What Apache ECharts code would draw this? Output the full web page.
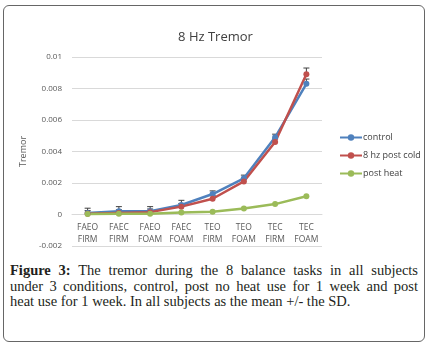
<!DOCTYPE html>
<html>
<head>
<meta charset="utf-8">
<script src="https://cdn.jsdelivr.net/npm/echarts@6/dist/echarts.min.js"></script>
<style>
  html, body { margin: 0; padding: 0; background: #fff; }
  #frame {
    position: absolute; left: 3px; top: 5px; width: 420px; height: 335px;
    border: 1.5px solid #666; border-radius: 6px;
  }
  #chart { position: absolute; left: 0; top: 0; width: 431px; height: 262px; }
  #caption {
    position: absolute; left: 10px; top: 263px; width: 408px;
    font-family: "Liberation Serif", "DejaVu Serif", serif;
    font-size: 14.5px; line-height: 15.5px; color: #231f20;
  }
  #caption div { text-align: justify; text-align-last: justify; white-space: nowrap; }
  #caption div.last { text-align-last: left; }
</style>
</head>
<body>
<div id="frame"></div>
<div id="chart"></div>
<div id="caption">
  <div><b>Figure 3:</b> The tremor during the 8 balance tasks in all subjects</div>
  <div>under 3 conditions, control, post no heat use for 1 week and post</div>
  <div class="last">heat use for 1 week. In all subjects as the mean +/- the SD.</div>
</div>
<script>
// 任务类别
var tasks = ['FAEO\nFIRM', 'FAEC\nFIRM', 'FAEO\nFOAM', 'FAEC\nFOAM', 'TEO\nFIRM', 'TEO\nFOAM', 'TEC\nFIRM', 'TEC\nFOAM'];
// 均值
var control  = [0.0001, 0.0002, 0.0002, 0.0006, 0.0013, 0.0023, 0.0049, 0.0083];
var postCold = [0.00005, 0.0001, 0.00015, 0.0005, 0.001, 0.0021, 0.0046, 0.0089];
var postHeat = [0.00003, 0.00005, 0.00005, 0.00013, 0.00017, 0.00038, 0.00066, 0.00116];
// 标准差 (只画上半部分)
var controlSd  = [0.0003, 0.0003, 0.0003, 0.0003, 0.0002, 0.0002, 0.0002, 0.0003];
var postColdSd = [0.0002, 0.0002, 0.0002, 0.0002, 0.0002, 0.0002, 0.0002, 0.0004];

var colors = ['#4F81BD', '#C0504D', '#9BBB59'];

function errData(mean, sd) {
    return mean.map(function (v, i) { return [i, v, v + sd[i]]; });
}

function renderErr(params, api) {
    var p0 = api.coord([api.value(0), api.value(1)]);
    var p1 = api.coord([api.value(0), api.value(2)]);
    var style = { stroke: '#404040', lineWidth: 1 };
    return {
        type: 'group',
        children: [
            { type: 'line', shape: { x1: p0[0], y1: p0[1], x2: p1[0], y2: p1[1] }, style: style },
            { type: 'line', shape: { x1: p1[0] - 3, y1: p1[1], x2: p1[0] + 3, y2: p1[1] }, style: style }
        ]
    };
}

function lineSeries(name, data, color) {
    return {
        name: name,
        type: 'line',
        data: data,
        symbol: 'circle',
        symbolSize: 6,
        z: 3,
        itemStyle: { color: color },
        lineStyle: { color: color, width: 2.5 }
    };
}

var option = {
    animation: false,
    color: colors,
    title: {
        text: '8 Hz Tremor',
        left: 'center',
        top: 26,
        textStyle: { fontFamily: 'Open Sans', fontSize: 13, fontWeight: 'normal', color: '#404040' }
    },
    legend: {
        orient: 'vertical',
        left: 334,
        top: 128,
        itemWidth: 22,
        itemHeight: 8,
        itemGap: 9,
        data: ['control', '8 hz post cold', 'post heat'],
        textStyle: { fontFamily: 'Open Sans', fontSize: 9, color: '#404040', padding: [0, 0, 0, -4] }
    },
    grid: { left: 72, top: 57, width: 250, height: 189, outerBoundsMode: 'none' },
    xAxis: {
        type: 'category',
        data: tasks,
        position: 'bottom',
        offset: -31.5,
        axisLine: { onZero: false, lineStyle: { color: '#d9d9d9' } },
        axisTick: { show: false },
        axisLabel: { margin: 7, fontFamily: 'Open Sans', fontSize: 8.5, lineHeight: 12, color: '#595959' }
    },
    yAxis: {
        type: 'value',
        min: -0.002,
        max: 0.01,
        interval: 0.002,
        name: 'Tremor',
        nameLocation: 'middle',
        nameRotate: 90,
        nameGap: 40,
        nameTextStyle: { fontFamily: 'Open Sans', fontSize: 9, color: '#595959' },
        axisLine: { show: false },
        axisTick: { show: false },
        splitLine: { lineStyle: { color: '#d9d9d9' } },
        axisLabel: { margin: 10, fontFamily: 'Open Sans', fontSize: 8, color: '#595959' }
    },
    series: [
        { type: 'custom', renderItem: renderErr, data: errData(control, controlSd), z: 1, silent: true },
        { type: 'custom', renderItem: renderErr, data: errData(postCold, postColdSd), z: 1, silent: true },
        lineSeries('control', control, colors[0]),
        lineSeries('8 hz post cold', postCold, colors[1]),
        lineSeries('post heat', postHeat, colors[2])
    ]
};

var myChart = echarts.init(document.getElementById('chart'));
myChart.setOption(option);
window.addEventListener('resize', function () {
    myChart.resize();
}, false);
</script>
</body>
</html>
